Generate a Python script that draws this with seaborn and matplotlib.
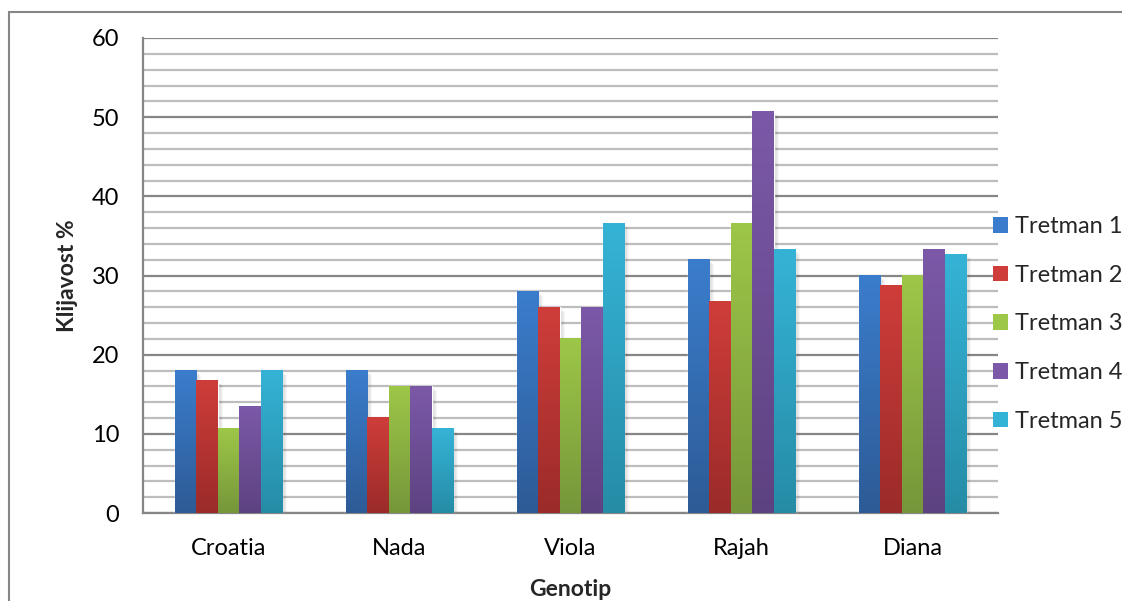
import numpy as np
import pandas as pd
import matplotlib
matplotlib.use("Agg")
import matplotlib.pyplot as plt
import seaborn as sns
from matplotlib.colors import LinearSegmentedColormap
from matplotlib.patches import Rectangle

# data
genotipi = ["Croatia", "Nada", "Viola", "Rajah", "Diana"]
tretmani = ["Tretman 1", "Tretman 2", "Tretman 3", "Tretman 4", "Tretman 5"]
tretman_1 = [18.0, 18.0, 28.0, 32.0, 30.0]
tretman_2 = [16.7, 12.0, 26.0, 26.7, 28.7]
tretman_3 = [10.7, 16.0, 22.0, 36.6, 30.0]
tretman_4 = [13.4, 16.0, 26.0, 50.7, 33.3]
tretman_5 = [18.0, 10.7, 36.6, 33.3, 32.7]

# top / bottom colours of the Excel gradient
top_cols = ["#3B7DCC", "#CF3D3A", "#9DC748", "#7C59A8", "#35B3D6"]
bot_cols = ["#2D5B96", "#9A2B29", "#76963A", "#5D4281", "#268CA6"]

series = [tretman_1, tretman_2, tretman_3, tretman_4, tretman_5]
df = pd.DataFrame({
    "Genotip": np.tile(genotipi, len(tretmani)),
    "Tretman": np.repeat(tretmani, len(genotipi)),
    "Klijavost": np.concatenate(series),
})

sns.set_style("white")
plt.rcParams["font.family"] = ["Lato", "DejaVu Sans"]

W, H = 1122, 601
fig = plt.figure(figsize=(W / 100, H / 100), dpi=100)
ax = fig.add_axes([143 / W, 1 - 513 / H, (998 - 143) / W, (513 - 38) / H])

sns.barplot(data=df, x="Genotip", y="Klijavost", hue="Tretman",
            palette=top_cols, width=0.63, gap=0, saturation=1, ax=ax,
            legend=False, errorbar=None, zorder=3)

# gradient + soft shadow on each bar
for k, cont in enumerate(ax.containers):
    cmap = LinearSegmentedColormap.from_list("g%d" % k, [bot_cols[k], top_cols[k]])
    grad = np.linspace(0, 1, 256).reshape(-1, 1)
    for p in cont:
        x, w, h = p.get_x(), p.get_width(), p.get_height()
        for s in range(4):
            ax.add_patch(Rectangle((x + 0.012 + s * 0.006, 0), w, h - 0.25 - s * 0.1,
                                   color="black", alpha=0.035, zorder=2, lw=0))
        ax.imshow(grad, extent=[x, x + w, 0, h], origin="lower", aspect="auto",
                  cmap=cmap, zorder=3.5)
ax.set_ylim(0, 60)
ax.set_xlim(-0.5, 4.5)

# gridlines
ax.set_yticks(np.arange(0, 61, 10))
ax.set_yticks(np.arange(0, 61, 2), minor=True)
ax.grid(axis="y", which="minor", color="#BDBDBD", lw=1.6, zorder=1)
ax.grid(axis="y", which="major", color="#868686", lw=1.6, zorder=1)
ax.set_axisbelow(True)

for s in ["top", "right"]:
    ax.spines[s].set_visible(False)
for s in ["left", "bottom"]:
    ax.spines[s].set_color("#868686")
    ax.spines[s].set_linewidth(1.6)

ax.tick_params(axis="y", which="major", length=6, width=1.6, color="#868686",
               direction="out", pad=11, labelsize=17, labelcolor="black")
ax.tick_params(axis="y", which="minor", length=0)
ax.tick_params(axis="x", length=0, pad=18, labelsize=17, labelcolor="black")

ax.set_xlabel("")
ax.set_ylabel("")
fig.text(68 / W, 1 - 276 / H, "Klijavost %", rotation=90, ha="center", va="center",
         fontsize=16.5, fontweight="bold")
fig.text(570 / W, 1 - 589 / H, "Genotip", ha="center", va="center",
         fontsize=16.5, fontweight="bold")

# legend on the right
handles = [Rectangle((0, 0), 1, 1, facecolor=c, edgecolor="none") for c in top_cols]
fig.legend(handles, tretmani, loc="center left",
           bbox_to_anchor=(993 / W, 1 - 324 / H), frameon=False,
           borderpad=0, borderaxespad=0,
           fontsize=17, handlelength=0.65, handleheight=0.65,
           handletextpad=0.3, labelspacing=1.17)

# chart frame, cut by the image edges
fig.patches.append(Rectangle((9 / W, -0.2), 1.2, 1.2 - 12 / H,
                             transform=fig.transFigure, fill=False,
                             edgecolor="#868686", lw=1.5))

fig.savefig("out.png", dpi=100)
